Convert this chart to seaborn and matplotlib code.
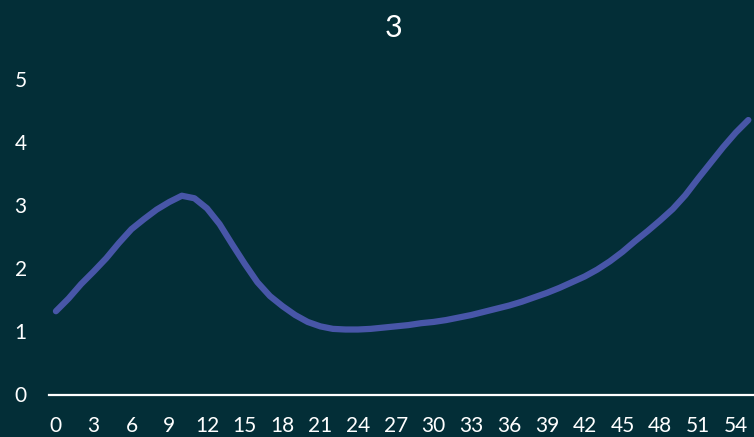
import matplotlib
matplotlib.use("Agg")
import matplotlib.pyplot as plt
import seaborn as sns
import pandas as pd

# Series: one value per step 0..55
steps = list(range(56))
values = [
    1.32, 1.52, 1.75, 1.95, 2.16, 2.40, 2.62, 2.78, 2.93, 3.05,
    3.15, 3.11, 2.95, 2.70, 2.38, 2.07, 1.78, 1.56, 1.40, 1.26,
    1.15, 1.08, 1.04, 1.03, 1.03, 1.04, 1.06, 1.08, 1.10, 1.13,
    1.15, 1.18, 1.22, 1.26, 1.31, 1.36, 1.41, 1.47, 1.54, 1.61,
    1.69, 1.78, 1.87, 1.98, 2.11, 2.26, 2.43, 2.59, 2.76, 2.94,
    3.16, 3.42, 3.67, 3.92, 4.15, 4.35,
]
x_ticks = list(range(0, 55, 3))
y_ticks = [0, 1, 2, 3, 4, 5]
title = "3"

BG = "#032e37"
LINE = "#4856a8"
FG = "white"

sns.set_style("white")
plt.rcParams["font.family"] = ["Lato", "DejaVu Sans"]

fig = plt.figure(figsize=(7.54, 4.37), dpi=100, facecolor=BG)
ax = fig.add_axes([49 / 754, (437 - 394.5) / 437, 1 - 49 / 754, (394.5 - 79) / 437])
ax.set_facecolor(BG)

df = pd.DataFrame({"step": steps, "value": values})
sns.lineplot(data=df, x="step", y="value", ax=ax, color=LINE, linewidth=4.5,
             solid_capstyle="round", solid_joinstyle="round", clip_on=False)

ax.set_xlim(-0.55, 55.45)
ax.set_ylim(0, 5)
ax.set_xticks(x_ticks)
ax.set_yticks(y_ticks)
ax.set_xlabel("")
ax.set_ylabel("")

for side in ("top", "right", "left"):
    ax.spines[side].set_visible(False)
ax.spines["bottom"].set_color(FG)
ax.spines["bottom"].set_linewidth(1.6)

ax.tick_params(axis="x", length=0, pad=15.5, labelsize=15, colors=FG)
ax.tick_params(axis="y", length=0, pad=16, labelsize=15, colors=FG)
ax.grid(False)

fig.text(394 / 754, 1 - 28 / 437, title, ha="center", va="center",
         color=FG, fontsize=22)

fig.savefig("out.png", dpi=100, facecolor=BG)
